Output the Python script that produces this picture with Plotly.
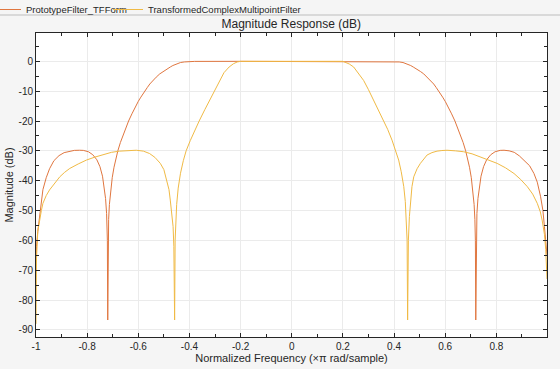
import plotly.graph_objects as go

# ---- data ----
proto_x = [-1.0, -0.998, -0.993, -0.988, -0.982, -0.973, -0.96, -0.947, -0.93, -0.91, -0.89, -0.87,
           -0.85, -0.83, -0.815, -0.795, -0.778, -0.762, -0.75, -0.74, -0.733, -0.728, -0.724, -0.721,
           -0.7195, -0.718, -0.716, -0.713, -0.708, -0.702, -0.695, -0.688, -0.68, -0.67, -0.66, -0.65,
           -0.638, -0.625, -0.612, -0.60, -0.59, -0.578, -0.565, -0.555, -0.543, -0.53, -0.516, -0.503,
           -0.49, -0.475, -0.465, -0.45, -0.435, -0.42, -0.40, -0.38, -0.2, 0.0,
           0.2, 0.38, 0.40, 0.42, 0.435, 0.45, 0.465, 0.475, 0.49, 0.503, 0.516, 0.53, 0.543, 0.555,
           0.565, 0.578, 0.59, 0.60, 0.612, 0.625, 0.638, 0.65, 0.66, 0.67, 0.68, 0.688, 0.695, 0.702,
           0.708, 0.713, 0.716, 0.718, 0.7195, 0.721, 0.724, 0.728, 0.733, 0.74, 0.75, 0.762, 0.778,
           0.795, 0.815, 0.83, 0.85, 0.87, 0.89, 0.91, 0.93, 0.947, 0.96, 0.973, 0.982, 0.988, 0.993, 0.998]
proto_db = [-67, -62, -57, -53, -48, -43, -39, -36, -33.3, -31.6, -30.6, -30.1,
            -29.85, -29.8, -29.85, -30.3, -31.3, -33, -35.3, -38.5, -42.5, -46, -51, -60,
            -86.7, -60, -53, -48, -43, -39, -35.5, -32.5, -30, -27.2, -24.8, -22.5,
            -20, -17.6, -15.3, -13.4, -12, -10.3, -8.8, -7.6, -6.4, -5.3, -4.2, -3.4,
            -2.6, -1.9, -1.4, -0.8, -0.4, -0.2, -0.05, -0.02, 0, 0,
            0, -0.02, -0.05, -0.2, -0.4, -0.8, -1.4, -1.9, -2.6, -3.4, -4.2, -5.3, -6.4, -7.6,
            -8.8, -10.3, -12, -13.4, -15.3, -17.6, -20, -22.5, -24.8, -27.2, -30, -32.5, -35.5, -39,
            -43, -48, -53, -60, -86.7, -60, -51, -46, -42.5, -38.5, -35.3, -33, -31.3,
            -30.3, -29.85, -29.8, -30, -30.5, -31.7, -33.2, -35, -37.6, -40.5, -45.4, -50, -55.4, -60, -65]

trans_x = [-1.0, -0.998, -0.993, -0.986, -0.979, -0.973, -0.96, -0.947, -0.927, -0.907, -0.888, -0.868,
           -0.835, -0.803, -0.77, -0.738, -0.705, -0.673, -0.64, -0.608, -0.58, -0.556, -0.535, -0.514,
           -0.50, -0.488, -0.48, -0.475, -0.469, -0.464, -0.461, -0.458, -0.456, -0.454, -0.45, -0.444,
           -0.435, -0.424, -0.413, -0.397, -0.38, -0.362, -0.34, -0.32, -0.30, -0.283, -0.265, -0.245,
           -0.228, -0.213, -0.2,
           0.2, 0.21, 0.225, 0.242, 0.26, 0.281, 0.30, 0.32, 0.34, 0.359, 0.375, 0.392, 0.405, 0.418,
           0.428, 0.438, 0.444, 0.448, 0.451, 0.453, 0.456, 0.46, 0.464, 0.47, 0.477, 0.49, 0.503,
           0.515, 0.529, 0.548, 0.568, 0.587, 0.607, 0.64, 0.672, 0.705, 0.738, 0.77, 0.803, 0.836,
           0.869, 0.895, 0.921, 0.942, 0.96, 0.972, 0.979, 0.988, 0.993, 0.998]
trans_db = [-88, -66, -57, -53, -50, -47.6, -45, -43.1, -40.7, -38.7, -37.2, -35.9,
            -34.4, -33.1, -32.1, -31.2, -30.5, -30.1, -29.85, -29.8, -30.1, -30.9, -32.2, -34.2,
            -36.3, -39.8, -43, -46.5, -51, -55.4, -62, -86.7, -60, -54, -48, -42.5,
            -37.5, -33.3, -30, -26.6, -23.2, -20, -16.2, -12.8, -9.5, -6.4, -3.8, -1.9,
            -0.8, -0.2, 0,
            0, -0.3, -0.9, -1.9, -3.8, -6.4, -9.5, -13.0, -16.4, -19.7, -22.8, -26.4, -29.5, -33.1,
            -37, -42.0, -47, -53.2, -60, -86.7, -60, -52, -46.5, -42, -38.7, -36, -34.2,
            -32.8, -31.4, -30.6, -30.1, -29.9, -29.8, -30, -30.3, -31, -32, -33, -34.2, -35.7,
            -37.6, -39.6, -42, -44.5, -47.6, -50.5, -53.2, -58, -63, -73]

x_ticks = [-1, -0.8, -0.6, -0.4, -0.2, 0, 0.2, 0.4, 0.6, 0.8]
x_tick_labels = ["-1", "-0.8", "-0.6", "-0.4", "-0.2", "0", "0.2", "0.4", "0.6", "0.8"]
y_ticks = [0, -10, -20, -30, -40, -50, -60, -70, -80, -90]
y_tick_labels = ["0", "-10", "-20", "-30", "-40", "-50", "-60", "-70", "-80", "-90"]

FONT = "Liberation Sans, Arial, sans-serif"
AX = "#262626"

fig = go.Figure()
fig.add_trace(go.Scatter(x=proto_x, y=proto_db, mode="lines", name="PrototypeFilter_TFForm",
                         line=dict(color="#E0763F", width=1), legend="legend"))
fig.add_trace(go.Scatter(x=trans_x, y=trans_db, mode="lines", name="TransformedComplexMultipointFilter",
                         line=dict(color="#F0BA45", width=1), legend="legend2"))

axis_common = dict(
    showline=True, linecolor=AX, linewidth=1, mirror="ticks",
    ticks="inside", ticklen=4, tickcolor=AX, tickwidth=1,
    showgrid=True, gridcolor="#EBEBEB", gridwidth=1,
    zeroline=False, automargin=False,
    tickfont=dict(family=FONT, size=10, color=AX),
)

fig.update_xaxes(
    range=[-1, 0.998], tickmode="array", tickvals=x_ticks, ticktext=x_tick_labels,
    minor=dict(dtick=0.1, ticks="inside", ticklen=3, tickcolor=AX, showgrid=False),
    title=dict(text="Normalized Frequency (\u00d7\u03c0 rad/sample)",
               font=dict(family=FONT, size=11, color=AX), standoff=2),
    **axis_common,
)
fig.update_yaxes(
    range=[-92.4, 9.5], tickmode="array", tickvals=y_ticks, ticktext=y_tick_labels,
    minor=dict(dtick=5, ticks="inside", ticklen=3, tickcolor=AX, showgrid=False),
    title=dict(text="Magnitude (dB)", font=dict(family=FONT, size=11, color=AX), standoff=2),
    **axis_common,
)

PLOT_W = 560 - 36 - 13
PLOT_H = 369 - 33 - 32

legend_common = dict(orientation="h", xref="paper", xanchor="left",
                     y=1 + (33 + 5) / PLOT_H, yref="paper", yanchor="top",
                     font=dict(family=FONT, size=9.5, color=AX), bgcolor="rgba(0,0,0,0)",
                     itemwidth=30, tracegroupgap=0)

fig.update_layout(
    width=560, height=369,
    margin=dict(l=36, r=13, t=33, b=32, autoexpand=False),
    paper_bgcolor="#F5F5F5", plot_bgcolor="#FFFFFF",
    title=dict(text="Magnitude Response (dB)", x=0.52, xanchor="center",
               y=1 - 24 / 369, yref="container", yanchor="middle",
               font=dict(family=FONT, size=12, color=AX)),
    showlegend=True,
    legend=dict(x=(-14 - 36) / PLOT_W, **legend_common),
    legend2=dict(x=(108 - 36) / PLOT_W, **legend_common),
    shapes=[dict(type="line", xref="paper", yref="paper",
                 x0=-36 / PLOT_W, x1=(560 - 36) / PLOT_W, y0=1 + 18 / PLOT_H, y1=1 + 18 / PLOT_H,
                 line=dict(color="#BDBDBD", width=1))],
)

fig.write_html("out.html", config={"displayModeBar": False},
               post_script="document.body.style.margin='0';document.body.style.overflow='hidden';")
